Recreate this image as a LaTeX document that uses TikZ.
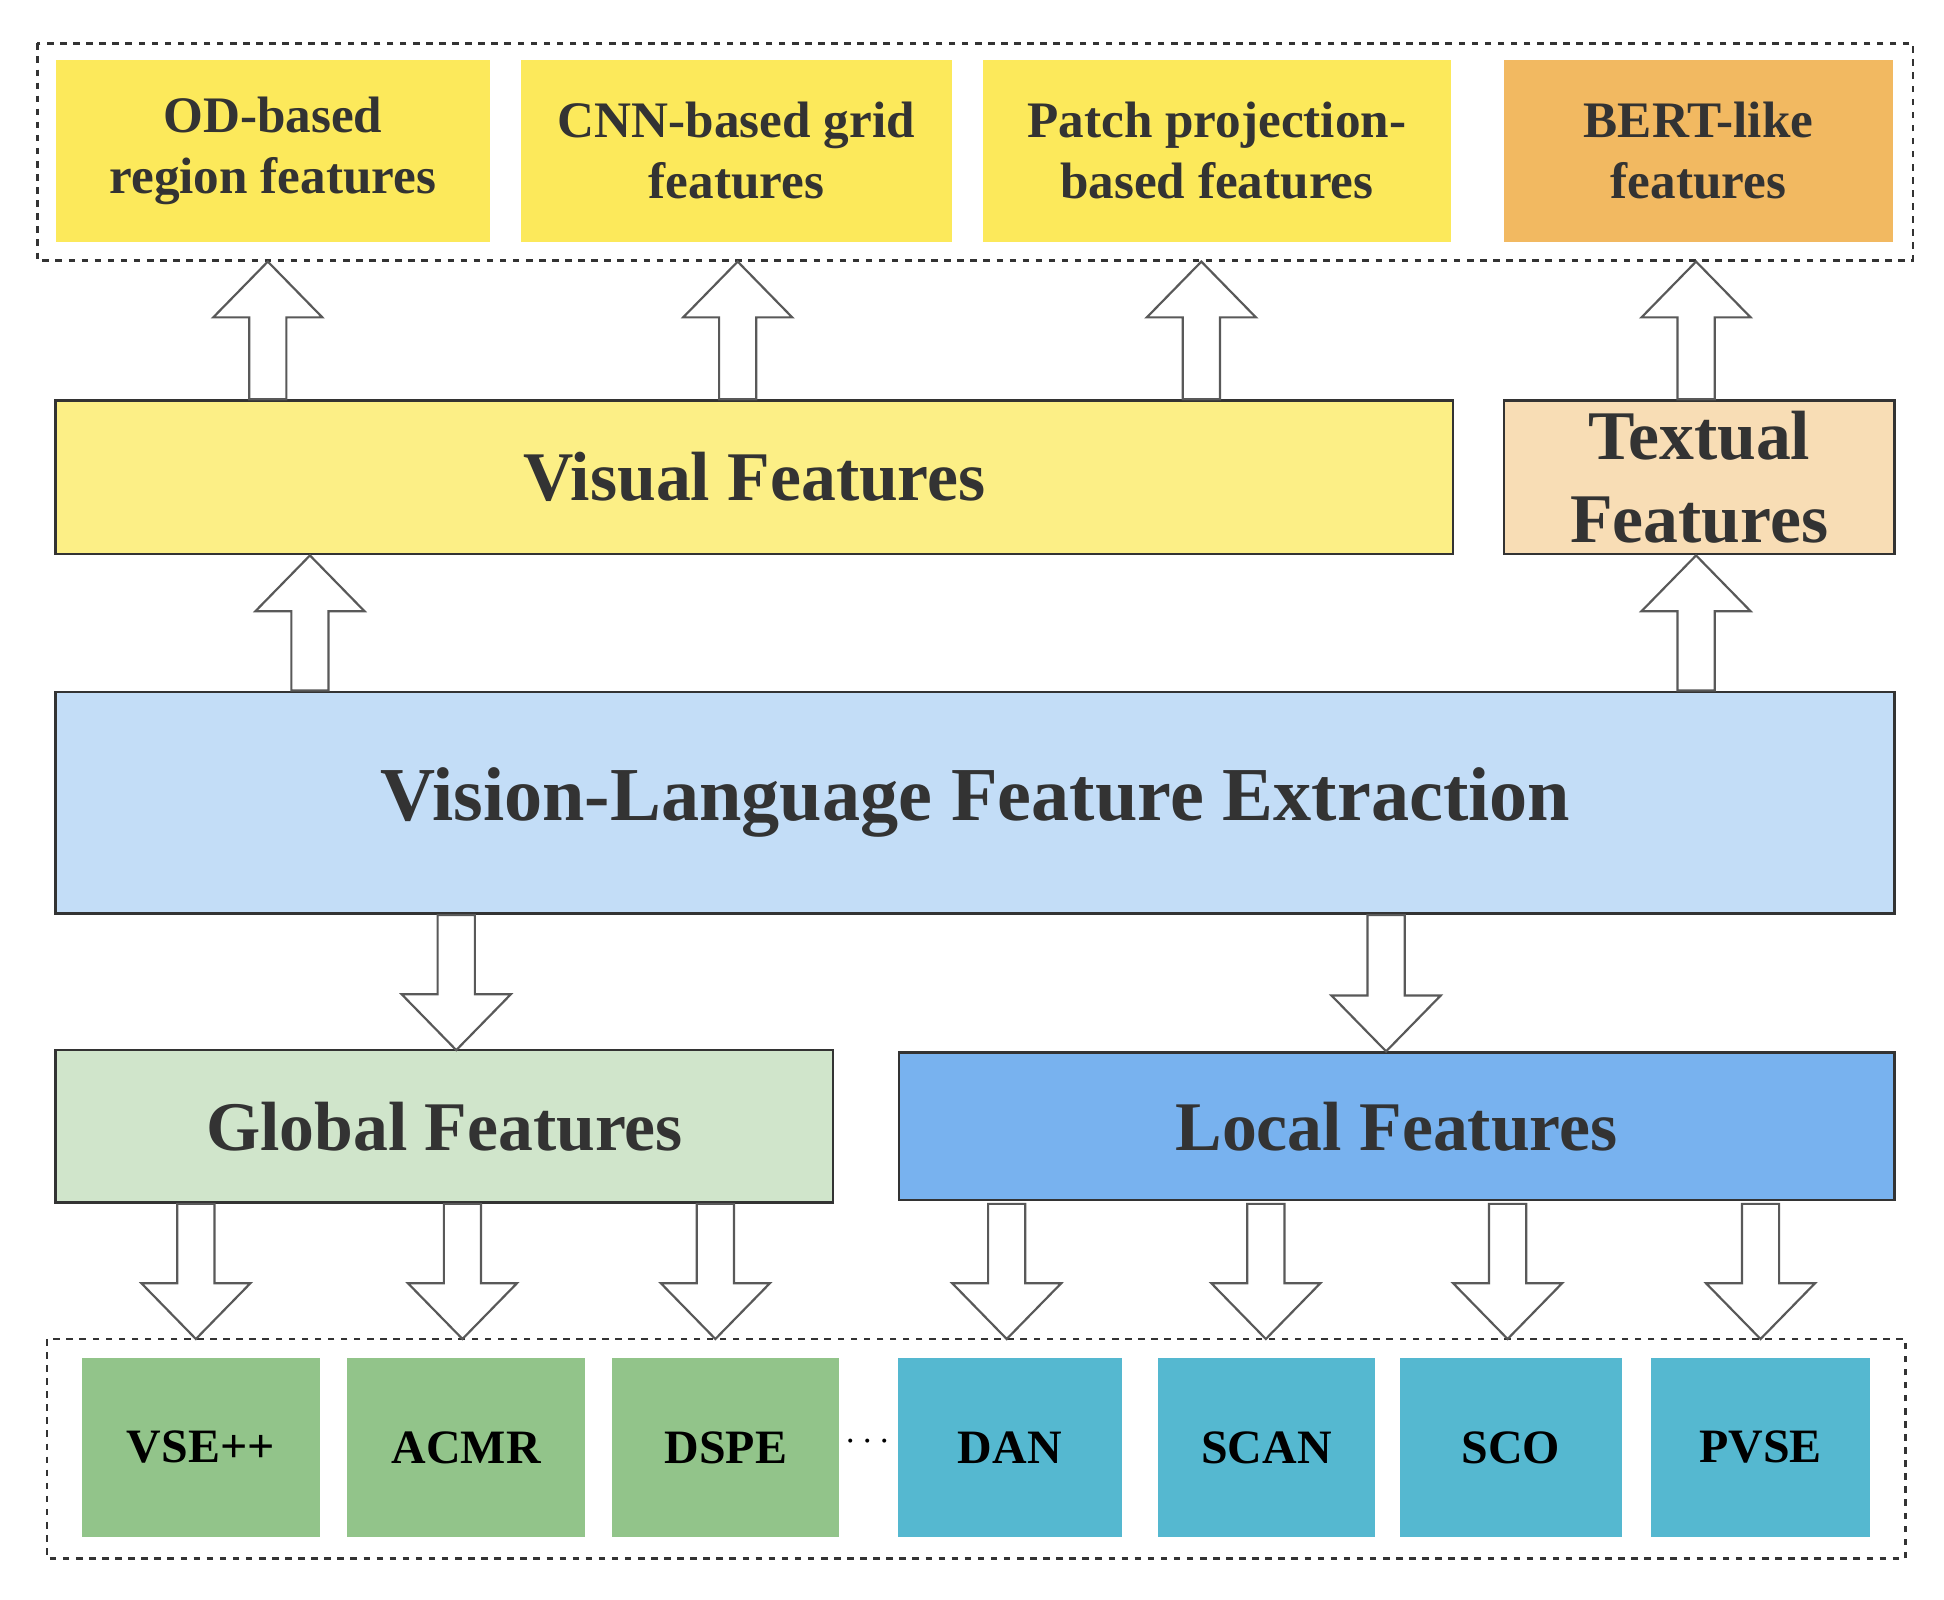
\documentclass[tikz,border=0pt]{standalone}
\usepackage{fontspec}
\setmainfont{Liberation Serif}
\begin{document}
\begin{tikzpicture}[x=0.02cm,y=-0.02cm,
 box/.style={draw=black!80,line width=1.2pt,inner sep=0,font=\bfseries,text=black!80,align=center},
 dbox/.style={draw=black!80,dashed,line width=1.2pt},
 harr/.style={draw=black!65,fill=white,line width=1pt},
 sz/.style n args={2}{minimum width=#1*0.02cm,minimum height=#2*0.02cm}]
\useasboundingbox (0,0) rectangle (1568,1290);
\newcommand\harrow[3]{%
 \pgfmathsetmacro\hy{#2>#3 ? #3+45 : #3-45}%
 \pgfmathsetmacro\xl{#1-15}\pgfmathsetmacro\xr{#1+15}%
 \pgfmathsetmacro\xL{#1-44}\pgfmathsetmacro\xR{#1+44}%
 \path[harr] (\xl,#2) -- (\xl,\hy) -- (\xL,\hy) -- (#1,#3) -- (\xR,\hy) -- (\xr,\hy) -- (\xr,#2) -- cycle;}
\draw[dbox] (30,35) rectangle (1543,210);
\draw[dbox] (38,1080) rectangle (1537,1257);
\def\sm{\fontsize{23.5}{28}\selectfont}
\def\bg{\fontsize{32}{38}\selectfont}
\node[box,draw=none,fill={rgb,255:red,252;green,233;blue,91},sz={350}{147},font=\bfseries\sm] (od) at (220,121.5) {OD-based\\region features};
\node[box,draw=none,fill={rgb,255:red,252;green,233;blue,91},sz={348}{147},font=\bfseries\sm] (cnn) at (594,121.5) {CNN-based grid\\features};
\node[box,draw=none,fill={rgb,255:red,252;green,233;blue,91},sz={377}{147},font=\bfseries\sm] (pat) at (981.5,121.5) {Patch projection-\\based features};
\node[box,draw=none,fill={rgb,255:red,242;green,185;blue,97},sz={314}{147},font=\bfseries\sm] (bert) at (1370,121.5) {BERT-like\\features};
\node[box,fill={rgb,255:red,252;green,239;blue,134},sz={1127}{124},font=\bfseries\bg] (vis) at (608.5,385) {Visual Features};
\node[box,fill={rgb,255:red,248;green,221;blue,181},sz={315}{124},font=\bfseries\fontsize{32}{38}\selectfont] (txt) at (1370.5,385) {Textual\\Features};
\node[box,fill={rgb,255:red,195;green,221;blue,247},sz={1483}{179},font=\bfseries\fontsize{35}{40}\selectfont] (vl) at (786.5,647.5) {Vision-Language Feature Extraction};
\node[box,fill={rgb,255:red,208;green,229;blue,203},sz={627}{123},font=\bfseries\bg] (glo) at (358.5,908.5) {Global Features};
\node[box,fill={rgb,255:red,120;green,178;blue,239},sz={803}{119},font=\bfseries\bg] (loc) at (1126.5,908.5) {Local Features};
\tikzset{gb/.style={box,draw=none,fill={rgb,255:red,146;green,196;blue,138},font=\bfseries\fontsize{22}{26}\selectfont,text=black},
 tb/.style={box,draw=none,fill={rgb,255:red,85;green,184;blue,208},font=\bfseries\fontsize{22}{26}\selectfont,text=black}}
\node[gb,sz={192}{145}] (vse) at (162,1167.5) {VSE++};
\node[gb,sz={192}{145}] (acmr) at (376,1167.5) {ACMR};
\node[gb,sz={183}{145}] (dspe) at (585.5,1167.5) {DSPE};
\node[font=\fontsize{16}{16}\selectfont] (dots) at (700,1163) {$\cdots$};
\node[tb,sz={181}{145}] (dan) at (814.5,1167.5) {DAN};
\node[tb,sz={175}{145}] (scan) at (1021.5,1167.5) {SCAN};
\node[tb,sz={179}{145}] (sco) at (1218.5,1167.5) {SCO};
\node[tb,sz={176}{145}] (pvse) at (1420,1167.5) {PVSE};
\harrow{216}{322}{211}
\harrow{595}{322}{211}
\harrow{969}{322}{211}
\harrow{1368}{322}{211}
\harrow{250}{557}{448}
\harrow{1368}{557}{448}
\harrow{368}{738}{847}
\harrow{1118}{738}{848}
\foreach \x in {158,373,577,812,1021,1216,1420}{\harrow{\x}{971}{1080}}
\end{tikzpicture}
\end{document}
